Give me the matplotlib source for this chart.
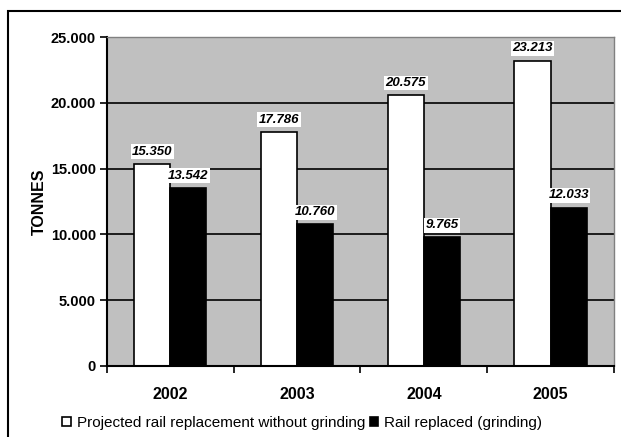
import numpy as np
import matplotlib.pyplot as plt
from matplotlib.patches import Rectangle
from matplotlib.ticker import FuncFormatter

plt.rcParams['font.family'] = ['Liberation Sans', 'DejaVu Sans']

years = ['2002', '2003', '2004', '2005']
projected = [15350, 17786, 20575, 23213]
replaced = [13542, 10760, 9765, 12033]
yticks = [0, 5000, 10000, 15000, 20000, 25000]


def dotted_thousands(v, pos):
    return f'{int(v):,}'.replace(',', '.') if v else '0'


fig = plt.figure(figsize=(6.21, 4.37), dpi=100)
ax = fig.add_axes([0.1723, 0.1625, 0.8164, 0.7528])

# outer frame of the chart
fig.patches.append(Rectangle((8 / 621, -0.1), 1.2, 1 - 11 / 437 + 0.1,
                             transform=fig.transFigure, fill=False,
                             edgecolor='black', linewidth=1.5))

x = np.arange(len(years))
w = 0.285
ax.set_facecolor('#c0c0c0')
ax.set_axisbelow(True)
ax.yaxis.grid(True, color='black', linewidth=1.2)

b1 = ax.bar(x - w / 2, projected, w, color='white', edgecolor='black',
            linewidth=1.2, label='Projected rail replacement without grinding')
b2 = ax.bar(x + w / 2, replaced, w, color='black', edgecolor='black',
            linewidth=1.2, label='Rail replaced (grinding)')

for bars, vals in ((b1, projected), (b2, replaced)):
    for bar, v in zip(bars, vals):
        ax.annotate(dotted_thousands(v, None),
                    (bar.get_x() + bar.get_width() / 2, v),
                    xytext=(0, 4.5), textcoords='offset points',
                    ha='center', va='bottom', fontsize=9.5,
                    fontweight='bold', fontstyle='italic',
                    bbox=dict(facecolor='white', edgecolor='none', pad=1))

ax.set_xlim(-0.5, len(years) - 0.5)
ax.set_ylim(0, 25000)
ax.set_yticks(yticks)
ax.yaxis.set_major_formatter(FuncFormatter(dotted_thousands))
ax.set_xticks(x)
ax.set_xticklabels(years, fontsize=11.5, fontweight='bold')
ax.set_xticks(np.arange(-0.5, len(years)), minor=True)
ax.tick_params(axis='x', which='major', length=0, pad=15)
ax.tick_params(axis='x', which='minor', length=5, width=1.2, direction='out')
ax.tick_params(axis='y', length=5, width=1.2, labelsize=10.5, pad=3)
for lbl in ax.get_yticklabels():
    lbl.set_fontweight('bold')
ax.set_ylabel('TONNES', fontsize=11.5, fontweight='bold', labelpad=3)

for side in ('top', 'right'):
    ax.spines[side].set_color('#808080')
    ax.spines[side].set_linewidth(1)
for side in ('left', 'bottom'):
    ax.spines[side].set_color('black')
    ax.spines[side].set_linewidth(1.5)

fig.legend(loc='center', bbox_to_anchor=(0.487, 0.032), ncol=2,
           frameon=False, fontsize=11, handlelength=0.55, handleheight=0.55,
           handletextpad=0.43, columnspacing=0.25, borderpad=0)

fig.savefig('out.png', dpi=100)
